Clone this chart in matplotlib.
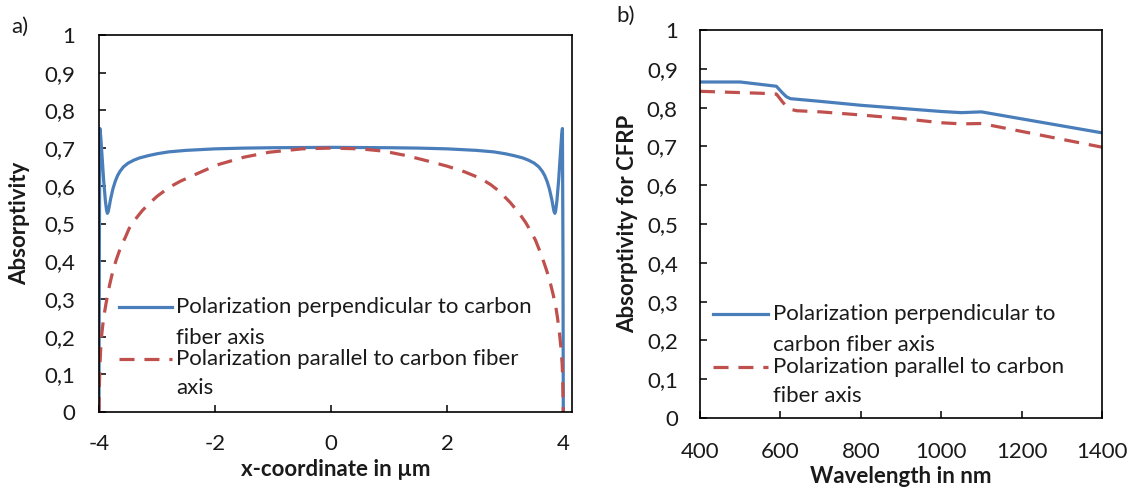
import matplotlib
matplotlib.use("Agg")
import matplotlib.pyplot as plt
from matplotlib.lines import Line2D
from matplotlib.ticker import FuncFormatter

plt.rcParams['font.family'] = ['Lato', 'DejaVu Sans']

# ---- panel a) data ----
perp_x = [-4.0, -3.995, -3.985, -3.97, -3.95, -3.92, -3.89, -3.87, -3.855, -3.84, -3.82, -3.80,
          -3.76, -3.72, -3.68, -3.64, -3.58, -3.50, -3.40, -3.30, -3.15, -3.0, -2.8, -2.5, -2.0,
          -1.5, -1.0, 0.0, 1.0, 1.5, 2.0, 2.5, 2.8, 3.0, 3.15, 3.30, 3.40, 3.50, 3.58, 3.64,
          3.68, 3.72, 3.76, 3.80, 3.82, 3.84, 3.855, 3.87, 3.89, 3.92, 3.95, 3.97, 3.985, 3.995, 4.0]
perp_y = [0.0, 0.40, 0.752, 0.73, 0.685, 0.615, 0.56, 0.535, 0.527, 0.532, 0.548, 0.565,
          0.592, 0.612, 0.627, 0.638, 0.650, 0.660, 0.668, 0.674, 0.680, 0.685, 0.690, 0.694, 0.698,
          0.700, 0.701, 0.702, 0.701, 0.700, 0.698, 0.694, 0.690, 0.685, 0.680, 0.674, 0.668, 0.660, 0.650, 0.638,
          0.627, 0.612, 0.592, 0.565, 0.548, 0.532, 0.527, 0.535, 0.56, 0.615, 0.685, 0.73, 0.752, 0.40, 0.0]

par_x = [-4.0, -3.995, -3.985, -3.97, -3.95, -3.92, -3.88, -3.82, -3.76, -3.70, -3.62, -3.55,
         -3.48, -3.38, -3.25, -3.12, -3.0, -2.79, -2.6, -2.4, -2.15, -1.93, -1.5, -1.07, -0.5,
         0.0, 0.5, 0.9, 1.3, 1.71, 2.0, 2.3, 2.57, 2.75, 2.9, 3.09, 3.25, 3.35, 3.43, 3.52, 3.6,
         3.67, 3.72, 3.78, 3.82, 3.87, 3.90, 3.93, 3.96, 3.98, 3.99, 4.0]
par_y = [0.0, 0.06, 0.12, 0.17, 0.21, 0.25, 0.287, 0.335, 0.375, 0.405, 0.44, 0.462,
         0.487, 0.51, 0.535, 0.555, 0.572, 0.596, 0.612, 0.626, 0.643, 0.657, 0.676, 0.689, 0.698,
         0.70, 0.698, 0.692, 0.68, 0.664, 0.652, 0.637, 0.62, 0.603, 0.585, 0.555, 0.525, 0.503, 0.482,
         0.456, 0.425, 0.395, 0.372, 0.34, 0.315, 0.28, 0.25, 0.215, 0.17, 0.128, 0.09, 0.0]

# ---- panel b) data ----
wl_perp = [400, 500, 590, 605, 615, 625, 700, 800, 900, 1000, 1050, 1100, 1400]
abs_perp = [0.866, 0.866, 0.855, 0.838, 0.828, 0.823, 0.816, 0.806, 0.798, 0.790, 0.787, 0.789, 0.735]
wl_par = [400, 550, 590, 605, 620, 640, 700, 800, 900, 1000, 1050, 1100, 1400]
abs_par = [0.842, 0.837, 0.835, 0.815, 0.797, 0.792, 0.789, 0.781, 0.772, 0.761, 0.758, 0.759, 0.698]

a_xticks = [-4, -2, 0, 2, 4]
b_xticks = [400, 600, 800, 1000, 1200, 1400]
yticks = [0.0, 0.1, 0.2, 0.3, 0.4, 0.5, 0.6, 0.7, 0.8, 0.9, 1.0]

leg_a = [["Polarization perpendicular to carbon", "fiber axis"],
         ["Polarization parallel to carbon fiber", "axis"]]
leg_b = [["Polarization perpendicular to", "carbon fiber axis"],
         ["Polarization parallel to carbon", "fiber axis"]]

BLUE = '#4A7EBB'
RED = '#C0504D'
TXT = '#1a1a1a'
FS = 16
TFS = 16

W, H = 1133, 491
fig = plt.figure(figsize=(W / 100, H / 100), dpi=100)

axa = fig.add_axes([99 / W, (H - 412) / H, 473 / W, 377 / H])
axb = fig.add_axes([700 / W, (H - 418) / H, 402 / W, 388 / H])

def comma(v, pos):
    s = ('%.1f' % v).rstrip('0').rstrip('.')
    return s.replace('.', ',')

for ax in (axa, axb):
    ax.set_ylim(0, 1)
    ax.set_yticks(yticks)
    ax.yaxis.set_major_formatter(FuncFormatter(comma))
    for sp in ax.spines.values():
        sp.set_linewidth(1.2)
        sp.set_color('black')
    ax.tick_params(direction='in', length=5, width=1.1, labelsize=TFS, colors='black',
                   labelcolor=TXT)

axa.tick_params(axis='y', pad=17)
axa.tick_params(axis='x', pad=16)
axb.tick_params(axis='y', pad=16)
axb.tick_params(axis='x', pad=17)

lw = 2.3
dash = (4.7, 3.1)

axa.plot(perp_x, perp_y, color=BLUE, lw=lw, solid_joinstyle='round')
axa.plot(par_x, par_y, color=RED, lw=lw, dashes=dash)
axa.set_xlim(-4, 4.15)
axa.set_xticks(a_xticks)
axa.set_xticklabels([str(v) for v in a_xticks])
axa.set_xlabel("x-coordinate in µm", fontsize=TFS, fontweight='bold', color=TXT, va='center')
axa.xaxis.set_label_coords(0.5, -0.153)
axa.set_ylabel("Absorptivity", fontsize=TFS, fontweight='bold', color=TXT, va='center')
axa.yaxis.set_label_coords(-0.167, 0.5)

axb.plot(wl_perp, abs_perp, color=BLUE, lw=lw, solid_joinstyle='round')
axb.plot(wl_par, abs_par, color=RED, lw=lw, dashes=dash)
axb.set_xlim(400, 1400)
axb.set_xticks(b_xticks)
axb.set_xticklabels([str(v) for v in b_xticks])
axb.set_xlabel("Wavelength in nm", fontsize=TFS, fontweight='bold', color=TXT, va='center')
axb.xaxis.set_label_coords(0.5, -0.152)
axb.set_ylabel("Absorptivity for CFRP", fontsize=TFS, fontweight='bold', color=TXT, va='center')
axb.yaxis.set_label_coords(-0.179, 0.5)

def legend(ax, hx0, hx1, tx, ys, labels):
    styles = [dict(color=BLUE, lw=lw), dict(color=RED, lw=lw, dashes=dash)]
    for (y1, y2), lab, st in zip(ys, labels, styles):
        ax.add_line(Line2D([hx0, hx1], [y1, y1], transform=ax.transAxes, **st))
        ax.text(tx, y1, lab[0], transform=ax.transAxes, va='center', ha='left',
                fontsize=FS, color=TXT)
        ax.text(tx, y2, lab[1], transform=ax.transAxes, va='center', ha='left',
                fontsize=FS, color=TXT)

legend(axa, 0.042, 0.154, 0.163, [(0.2785, 0.196), (0.1406, 0.0637)], leg_a)
legend(axb, 0.032, 0.169, 0.182, [(0.268, 0.188), (0.131, 0.057)], leg_b)

fig.text(11 / W, 1 - 27 / H, "a)", fontsize=TFS, color=TXT, va='center', ha='left')
fig.text(616 / W, 1 - 16 / H, "b)", fontsize=TFS, color=TXT, va='center', ha='left')

fig.savefig("out.png", dpi=100)
